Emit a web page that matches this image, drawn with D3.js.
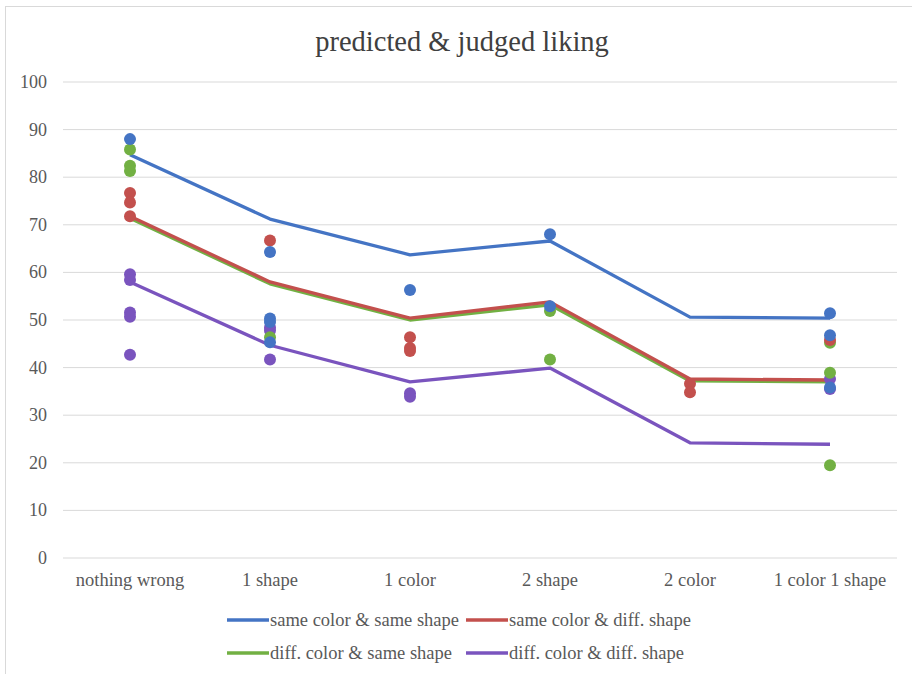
<!DOCTYPE html>
<html><head><meta charset="utf-8">
<script src="https://cdn.jsdelivr.net/npm/d3@7"></script>
<style>body{margin:0;background:#fff}svg{display:block}text{font-family:"Liberation Serif","Times New Roman",serif}</style>
</head><body><svg id="c" width="912" height="674"></svg>
<script>
const categories = ["nothing wrong","1 shape","1 color","2 shape","2 color","1 color 1 shape"];
const seriesNames = ["same color & same shape","same color & diff. shape","diff. color & same shape","diff. color & diff. shape"];
const seriesColors = ["#4474C4","#C3504D","#72B043","#7A54BE"];
const lineSameSame = [84.7,71.2,63.7,66.6,50.6,50.4];
const lineSameDiff = [71.8,58.0,50.4,53.8,37.6,37.4];
const lineDiffSame = [71.4,57.6,50.0,53.2,37.2,37.0];
const lineDiffDiff = [58.0,44.7,37.0,39.9,24.2,23.9];
// individual points: [categoryIndex, value]
const dotsSameSame = [[0,88.0],[1,64.3],[1,50.3],[1,49.6],[1,45.3],[2,56.3],[3,68.0],[3,52.9],[5,51.4],[5,46.8],[5,35.8]];
const dotsSameDiff = [[0,76.7],[0,74.7],[0,71.8],[1,66.7],[2,46.4],[2,44.1],[2,43.5],[4,36.6],[4,34.8],[5,45.8]];
const dotsDiffSame = [[0,85.8],[0,82.4],[0,81.3],[1,46.4],[3,51.9],[3,41.7],[5,45.2],[5,38.9],[5,19.5]];
const dotsDiffDiff = [[0,59.6],[0,58.4],[0,51.6],[0,50.7],[0,42.7],[1,48.4],[1,47.8],[1,41.7],[2,34.6],[2,33.9],[5,37.6],[5,35.5]];
const yTicks = [0,10,20,30,40,50,60,70,80,90,100];

const lines = [lineSameSame,lineSameDiff,lineDiffSame,lineDiffDiff];
const dots = [dotsSameSame,dotsSameDiff,dotsDiffSame,dotsDiffDiff];
const svg = d3.select("#c");
svg.append("rect").attr("x",5.5).attr("y",6.5).attr("width",920).attr("height",700).attr("fill","#fff").attr("stroke","#d9d9d9");

const x = d3.scaleBand().domain(categories).range([60,900]);
const y = d3.scaleLinear().domain([0,100]).range([558,82]);
const cx = c => x(c)+x.bandwidth()/2;

svg.append("text").attr("x",462).attr("y",51).attr("text-anchor","middle").attr("font-size",28.5).attr("fill","#404040").text("predicted & judged liking");

const gy = svg.append("g");
yTicks.forEach(t=>{
  gy.append("line").attr("x1",63).attr("x2",897).attr("y1",y(t)).attr("y2",y(t)).attr("stroke","#d9d9d9").attr("stroke-width",1);
  gy.append("text").attr("x",47).attr("y",y(t)+6).attr("text-anchor","end").attr("font-size",18).attr("fill","#595959").text(t);
});
categories.forEach(c=>{
  svg.append("text").attr("x",cx(c)).attr("y",586).attr("text-anchor","middle").attr("font-size",18.5).attr("fill","#595959").text(c);
});

const lineGen = d3.line().x((d,i)=>cx(categories[i])).y(d=>y(d));
const order = [2,1,0,3];
order.forEach(s=>{
  svg.append("path").attr("d",lineGen(lines[s])).attr("fill","none").attr("stroke",seriesColors[s]).attr("stroke-width",3.3).attr("stroke-linejoin","round");
});
[3,2,1,0].forEach(s=>{
  dots[s].forEach(([ci,v])=>{
    svg.append("circle").attr("cx",cx(categories[ci])).attr("cy",y(v)).attr("r",6).attr("fill",seriesColors[s]);
  });
});

const legPos = [[227,620],[466,620],[227,653],[466,653]];
seriesNames.forEach((n,i)=>{
  const [lx,ly]=legPos[i];
  svg.append("line").attr("x1",lx).attr("x2",lx+42).attr("y1",ly).attr("y2",ly).attr("stroke",seriesColors[i]).attr("stroke-width",3.3);
  svg.append("text").attr("x",lx+43).attr("y",ly+6).attr("font-size",18.5).attr("fill","#595959").text(n);
});
</script></body></html>
